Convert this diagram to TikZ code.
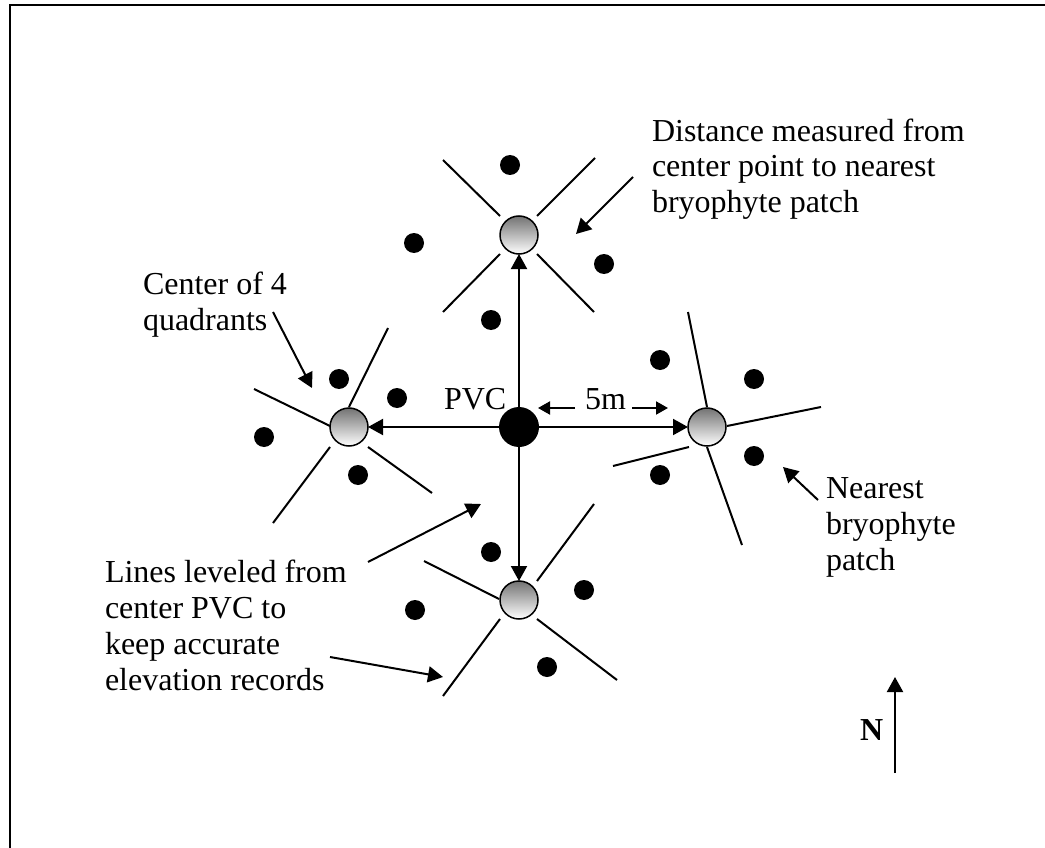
\documentclass[tikz,border=0pt]{standalone}
\usepackage{fontspec}
\setmainfont{Liberation Serif}
\usetikzlibrary{arrows.meta}
\begin{document}
\begin{tikzpicture}[x=1pt,y=-1pt,
 every node/.style={inner sep=0pt, outer sep=0pt},
 lbl/.style={font=\fontsize{32}{36}\selectfont, align=left, anchor=base west},
 quad/.style={circle, draw, line width=1.5pt, minimum size=38pt, top color=black!55, bottom color=white},
 pvcdot/.style={circle, fill=black, minimum size=40pt},
 patch/.style={circle, fill=black, minimum size=20pt},
 spoke/.style={line width=2pt},
 arr/.style={line width=2pt, -{Triangle[length=15pt,width=16pt]}},
 smallarr/.style={line width=2pt, -{Triangle[length=12pt,width=13pt]}},
]
\useasboundingbox (0,0) rectangle (1045,848);
\draw[line width=2pt] (10,848) -- (10,5) -- (1045,5);

% main posts
\node[pvcdot] (pvc) at (519,427) {};
\node[quad] (cn) at (519,235) {};
\node[quad] (cs) at (519,600) {};
\node[quad] (cw) at (349,427) {};
\node[quad] (ce) at (707,427) {};

\draw[arr] (pvc) -- (cn);
\draw[arr] (pvc) -- (cs);
\draw[arr] (pvc) -- (cw);
\draw[arr] (pvc) -- (ce);

% spokes
\draw[spoke] (443,160)--(500,216) (537,216)--(595,158) (500,254)--(443,312) (537,254)--(594,312);
\draw[spoke] (254,389)--(330,426) (349,407)--(388,328) (330,447)--(273,523) (368,447)--(432,493);
\draw[spoke] (688,312)--(707,407) (727,426)--(821,407) (689,447)--(613,466) (707,447)--(742,545);
\draw[spoke] (424,561)--(499,599) (537,581)--(594,504) (500,619)--(443,696) (537,619)--(617,680);

% bryophyte patches
\foreach \i/\p in {1/{510,165},2/{414,243},3/{604,264},4/{491,320},5/{660,360},6/{754,379},7/{754,456},8/{660,475},9/{339,379},10/{397,398},11/{264,437},12/{358,475},13/{491,552},14/{584,590},15/{415,610},16/{547,667}}
  \node[patch] (d\i) at (\p) {};

% labels (base anchor = baseline of last line)
\node[lbl] (tdist) at (652,213) {Distance measured from\\center point to nearest\\bryophyte patch};
\node[lbl] (tcent) at (143,330) {Center of 4\\quadrants};
\node[lbl] (tnear) at (826,570) {Nearest\\bryophyte\\patch};
\node[lbl] (tline) at (105,690) {Lines leveled from\\center PVC to\\keep accurate\\elevation records};
\node[lbl] (tpvc) at (444,409) {PVC};
\node[lbl] (t5m) at (585,409) {5m};
\node[lbl, font=\fontsize{32}{36}\selectfont\bfseries] (tN) at (860,740) {N};

% annotation arrows
\coordinate (a1s) at (633,177); \coordinate (a1e) at (576,234);
\coordinate (a2s) at (273,312); \coordinate (a2e) at (312,388);
\coordinate (a3s) at (818,500); \coordinate (a3e) at (783,467);
\coordinate (a4s) at (368,562); \coordinate (a4e) at (481,504);
\coordinate (a5s) at (330,657); \coordinate (a5e) at (443,677);
\coordinate (ns) at (895,773); \coordinate (ne) at (895,677);
\coordinate (m1s) at (575,408); \coordinate (m1e) at (538,408);
\coordinate (m2s) at (632,408); \coordinate (m2e) at (668,408);
\draw[arr] (a1s) -- (a1e);
\draw[arr] (a2s) -- (a2e);
\draw[arr] (a3s) -- (a3e);
\draw[arr] (a4s) -- (a4e);
\draw[arr] (a5s) -- (a5e);
\draw[arr] (ns) -- (ne);
\draw[smallarr] (m1s) -- (m1e);
\draw[smallarr] (m2s) -- (m2e);
\end{tikzpicture}
\end{document}
